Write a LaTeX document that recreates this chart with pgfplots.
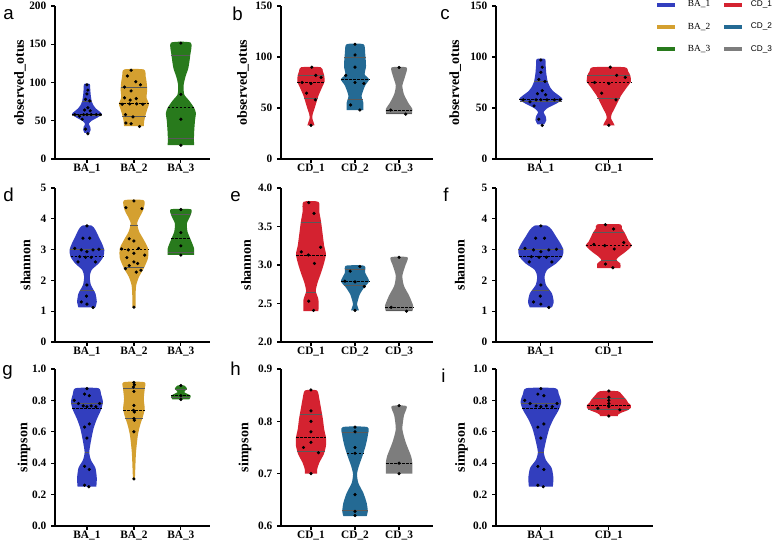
\documentclass[border=0pt]{standalone}
\usepackage{fontspec}
\setmainfont{Liberation Serif}
\newfontfamily\arialfont{Liberation Sans}
\usepackage{pgfplots}
\usepackage{pgfplotstable}
\pgfplotsset{compat=1.18}

\definecolor{cBAa}{RGB}{50,62,190}
\definecolor{cBAb}{RGB}{212,160,48}
\definecolor{cBAc}{RGB}{40,122,28}
\definecolor{cCDa}{RGB}{212,34,48}
\definecolor{cCDb}{RGB}{36,106,148}
\definecolor{cCDc}{RGB}{125,125,125}

% outlines: y and signed half-width (right side upwards, left side downwards)
% ---------- observed_otus ----------
\pgfplotstableread{
y w
34 .05
38 .08
42 .07
46 .04
50 .10
54 .22
58.5 .32
62 .27
66 .19
70 .14
76 .10
84 .08
92 .07
98 .06
98 -.06
92 -.07
84 -.08
76 -.10
70 -.14
66 -.19
62 -.27
58.5 -.32
54 -.22
50 -.10
46 -.04
42 -.07
38 -.08
34 -.05
}\oBAaO
\pgfplotstableread{
dx y
0 97
.02 90
0 85
-.03 78
.06 76
.02 67
-.05 64
.07 63
-.26 58
-.16 56
-.07 58
0 58
.09 58
.2 58
.28 58
-.1 52
-.03 39
.02 33
}\oBAaD
\pgfplotstableread{
med wm q1 w1 q3 w3
58.5 .32 57 .31 76 .10
}\oBAaS

\pgfplotstableread{
y w
43 .21
50 .22
58 .25
66 .29
72 .32
80 .27
88 .28
94 .28
101 .27
108 .25
117 .21
117 -.21
108 -.25
101 -.27
94 -.28
88 -.28
80 -.27
72 -.32
66 -.29
58 -.25
50 -.22
43 -.21
}\oBAbO
\pgfplotstableread{
dx y
-.06 116
-.14 108.5
.04 101
.14 97
-.2 94
-.06 89
-.2 80
-.08 77
.05 79
-.25 71.5
-.09 72
.06 72
.19 71.5
-.18 58
-.02 55
-.17 47
-.06 46
.12 42.5
}\oBAbD
\pgfplotstableread{
med wm q1 w1 q3 w3
73 .32 56 .25 94 .28
}\oBAbS

\pgfplotstableread{
y w
18 .28
32 .28
50 .30
60 .32
67 .28
76 .18
84.5 .07
97 .06
108 .10
119 .16
136 .20
152 .21
152 -.21
136 -.20
119 -.16
108 -.10
97 -.06
84.5 -.07
76 -.18
67 -.28
60 -.32
50 -.30
32 -.28
18 -.28
}\oBAcO
\pgfplotstableread{
dx y
0 151.5
0 84.5
0 52
0 18
}\oBAcD
\pgfplotstableread{
med wm q1 w1 q3 w3
68 .28 26.5 .28 136 .20
}\oBAcS

\pgfplotstableread{
y w
33 .08
36 .06
40 .03
44 .04
48 .07
55 .12
62 .17
70 .25
76 .31
82 .30
86 .27
90 .22
90 -.22
86 -.27
82 -.30
76 -.31
70 -.25
62 -.17
55 -.12
48 -.07
44 -.04
40 -.03
36 -.06
33 -.08
}\oCDaO
\pgfplotstableread{
dx y
.02 90
.11 82
.23 80
-.2 75
0 74
-.1 64.5
.1 58
0 33
}\oCDaD
\pgfplotstableread{
med wm q1 w1 q3 w3
75 .31 60 .16 82 .30
}\oCDaS

\pgfplotstableread{
y w
48 .19
55 .19
62 .15
72 .23
78 .32
83 .22
91 .25
104 .23
112.5 .19
112.5 -.19
104 -.23
91 -.25
83 -.22
78 -.32
72 -.23
62 -.15
55 -.19
48 -.19
}\oCDbO
\pgfplotstableread{
dx y
0 112.5
0 102
0 90
-.21 82
0 75
.2 74
-.1 53
.11 48
}\oCDbD
\pgfplotstableread{
med wm q1 w1 q3 w3
78 .32 58.7 .17 99.5 .24
}\oCDbS

\pgfplotstableread{
y w
44 .29
49 .30
55 .21
63.6 .11
72 .075
81.5 .14
89.7 .17
89.7 -.17
81.5 -.14
72 -.075
63.6 -.11
55 -.21
49 -.30
44 -.29
}\oCDcO
\pgfplotstableread{
dx y
0 89.7
-.19 48
.15 44
}\oCDcD
\pgfplotstableread{
med wm q1 w1 q3 w3
48 .30 45 .29 70 0
}\oCDcS

% ---------- shannon ----------
\pgfplotstableread{
y w
1.12 .18
1.3 .21
1.58 .18
1.85 .085
2.12 .06
2.34 .10
2.55 .25
2.77 .35
2.99 .37
3.2 .32
3.42 .25
3.64 .18
3.78 .10
3.78 -.10
3.64 -.18
3.42 -.25
3.2 -.32
2.99 -.37
2.77 -.35
2.55 -.25
2.34 -.10
2.12 -.06
1.85 -.085
1.58 -.18
1.3 -.21
1.12 -.18
}\sBAaO
\pgfplotstableread{
dx y
0 3.77
-.085 3.37
.06 3.37
-.26 3.04
-.12 2.99
0 2.93
.13 2.99
.255 3.01
-.155 2.77
-.03 2.75
.09 2.75
-.19 2.6
.18 2.6
0 1.85
-.01 1.49
-.12 1.3
0 1.23
.13 1.12
}\sBAaD
\pgfplotstableread{
med wm q1 w1 q3 w3
2.77 .35 1.68 .14 3.02 .37
}\sBAaS

\pgfplotstableread{
y w
1.12 .035
1.52 .035
1.85 .05
2.12 .11
2.39 .21
2.72 .30
3.04 .30
3.32 .21
3.59 .11
3.86 .07
4.08 .13
4.29 .20
4.6 .21
4.6 -.21
4.29 -.20
4.08 -.13
3.86 -.07
3.59 -.11
3.32 -.21
3.04 -.30
2.72 -.30
2.39 -.21
2.12 -.11
1.85 -.05
1.52 -.035
1.12 -.035
}\sBAbO
\pgfplotstableread{
dx y
0 4.58
-.17 4.36
.17 4.33
-.1 3.35
0 3.28
-.26 3.02
-.12 2.99
.1 3.04
0 2.88
.23 2.82
-.15 2.74
0 2.6
-.1 2.48
-.18 2.38
.15 2.33
.05 2.27
.08 2.55
0 1.13
}\sBAbD
\pgfplotstableread{
med wm q1 w1 q3 w3
3.02 .30 2.43 .22 3.8 .08
}\sBAbS

\pgfplotstableread{
y w
2.83 .28
3.04 .28
3.32 .21
3.59 .14
3.86 .13
4.13 .21
4.31 .21
4.31 -.21
4.13 -.21
3.86 -.13
3.59 -.14
3.32 -.21
3.04 -.28
2.83 -.28
}\sBAcO
\pgfplotstableread{
dx y
0 4.3
0 3.55
0 3.12
0 2.82
}\sBAcD
\pgfplotstableread{
med wm q1 w1 q3 w3
3.35 .21 2.9 .28 4.14 .21
}\sBAcS

\pgfplotstableread{
y w
2.4 .17
2.55 .17
2.66 .11
2.77 .15
2.9 .23
3.03 .30
3.14 .34
3.25 .30
3.38 .27
3.56 .23
3.69 .19
3.82 .17
3.82 -.17
3.69 -.19
3.56 -.23
3.38 -.27
3.25 -.30
3.14 -.34
3.03 -.30
2.9 -.23
2.77 -.15
2.66 -.11
2.55 -.17
2.4 -.17
}\sCDaO
\pgfplotstableread{
dx y
-.05 3.81
.07 3.67
.22 3.23
-.22 3.17
-.06 3.13
.08 3.02
-.05 2.53
.06 2.41
}\sCDaD
\pgfplotstableread{
med wm q1 w1 q3 w3
3.13 .34 2.65 .12 3.56 .23
}\sCDaS

\pgfplotstableread{
y w
2.41 .09
2.49 .045
2.53 .06
2.62 .11
2.71 .21
2.79 .32
2.9 .23
2.99 .21
2.99 -.21
2.9 -.23
2.79 -.32
2.71 -.21
2.62 -.11
2.53 -.06
2.49 -.045
2.41 -.09
}\sCDbO
\pgfplotstableread{
dx y
.11 2.98
-.11 2.92
-.23 2.79
0 2.78
.21 2.72
0 2.41
}\sCDbD
\pgfplotstableread{
med wm q1 w1 q3 w3
2.79 .32 2.74 .25 2.95 .22
}\sCDbS

\pgfplotstableread{
y w
2.4 .30
2.47 .32
2.6 .23
2.73 .11
2.86 .075
2.99 .14
3.1 .19
3.1 -.19
2.99 -.14
2.86 -.075
2.73 -.11
2.6 -.23
2.47 -.32
2.4 -.30
}\sCDcO
\pgfplotstableread{
dx y
0 3.1
-.18 2.45
.17 2.4
}\sCDcD
\pgfplotstableread{
med wm q1 w1 q3 w3
2.45 .32 2.41 .30 2.9 0
}\sCDcS

% ---------- simpson ----------
\pgfplotstableread{
y w
.25 .2
.305 .21
.37 .18
.42 .085
.47 .05
.54 .085
.62 .14
.68 .21
.74 .30
.79 .34
.84 .30
.878 .24
.878 -.24
.84 -.30
.79 -.34
.74 -.30
.68 -.21
.62 -.14
.54 -.085
.47 -.05
.42 -.085
.37 -.18
.305 -.21
.25 -.2
}\pBAaO
\pgfplotstableread{
dx y
0 .875
-.05 .84
.05 .83
-.27 .80
-.18 .78
-.08 .765
0 .76
.09 .765
.19 .76
.27 .78
-.05 .63
.05 .65
0 .56
-.05 .38
.05 .36
-.05 .26
.04 .25
}\pBAaD
\pgfplotstableread{
med wm q1 w1 q3 w3
.75 .31 .47 .05 .78 .34
}\pBAaS

\pgfplotstableread{
y w
.295 .02
.37 .03
.47 .045
.58 .085
.65 .14
.705 .20
.747 .23
.81 .21
.874 .23
.916 .22
.916 -.22
.874 -.23
.81 -.21
.747 -.23
.705 -.20
.65 -.14
.58 -.085
.47 -.045
.37 -.03
.295 -.02
}\pBAbO
\pgfplotstableread{
dx y
0 .914
.01 .90
-.01 .885
0 .857
0 .768
-.01 .737
.01 .726
0 .684
.01 .674
0 .60
0 .30
}\pBAbD
\pgfplotstableread{
med wm q1 w1 q3 w3
.737 .23 .684 .20 .878 .23
}\pBAbS

\pgfplotstableread{
y w
.806 .18
.83 .21
.853 .07
.874 .13
.895 .07
.895 -.07
.874 -.13
.853 -.07
.83 -.21
.806 -.18
}\pBAcO
\pgfplotstableread{
dx y
0 .895
0 .83
0 .806
}\pBAcD
\pgfplotstableread{
med wm q1 w1 q3 w3
.83 .21 .82 .20 .874 .13
}\pBAcS

\pgfplotstableread{
y w
.70 .14
.708 .14
.721 .19
.737 .29
.753 .34
.769 .34
.785 .30
.805 .27
.824 .23
.843 .19
.859 .135
.859 -.135
.843 -.19
.824 -.23
.805 -.27
.785 -.30
.769 -.34
.753 -.34
.737 -.29
.721 -.19
.708 -.14
.70 -.14
}\pCDaO
\pgfplotstableread{
dx y
0 .86
0 .82
0 .80
0 .78
-.17 .75
0 .76
.17 .74
0 .70
}\pCDaD
\pgfplotstableread{
med wm q1 w1 q3 w3
.769 .34 .742 .32 .814 .25
}\pCDaS

\pgfplotstableread{
y w
.619 .265
.628 .29
.644 .265
.663 .19
.682 .076
.699 .045
.715 .09
.734 .17
.753 .24
.773 .29
.789 .28
.789 -.28
.773 -.29
.753 -.24
.734 -.17
.715 -.09
.699 -.045
.682 -.076
.663 -.19
.644 -.265
.628 -.29
.619 -.265
}\pCDbO
\pgfplotstableread{
dx y
0 .789
0 .78
0 .75
0 .739
0 .66
0 .628
0 .62
}\pCDbD
\pgfplotstableread{
med wm q1 w1 q3 w3
.739 .19 .63 .29 .78 .29
}\pCDbS

\pgfplotstableread{
y w
.70 .30
.721 .30
.734 .27
.76 .15
.785 .075
.811 .11
.829 .17
.829 -.17
.811 -.11
.785 -.075
.76 -.15
.734 -.27
.721 -.30
.70 -.30
}\pCDcO
\pgfplotstableread{
dx y
0 .83
0 .72
0 .70
}\pCDcD
\pgfplotstableread{
med wm q1 w1 q3 w3
.72 .30 .70 0 .80 0
}\pCDcS

% #1 centre, #2 width scale, #3 colour, #4 outline, #5 dots, #6 quartiles
\newcommand{\violin}[6]{%
\addplot[fill=#3, draw=none, smooth, tension=0.4] table[x expr={#1+#2*\thisrow{w}}, y=y] {#4} -- cycle;
\addplot[black!65, line width=0.4pt, no markers, quiver={u=2*#2*\thisrow{w1}, v=0}] table[x expr={#1-#2*\thisrow{w1}}, y=q1] {#6};
\addplot[black!65, line width=0.4pt, no markers, quiver={u=2*#2*\thisrow{w3}, v=0}] table[x expr={#1-#2*\thisrow{w3}}, y=q3] {#6};
\addplot[black, line width=0.55pt, dash pattern=on 2pt off 1pt, no markers, quiver={u=2*#2*\thisrow{wm}, v=0}] table[x expr={#1-#2*\thisrow{wm}}, y=med] {#6};
\addplot[only marks, mark=*, mark size=1pt, black] table[x expr={#1+#2*\thisrow{dx}}, y=y] {#5};
}

\pgfplotsset{
vio/.style={
  scale only axis, anchor=south west, clip=false,
  axis lines=left, axis line style={-, line width=1pt},
  tick align=outside, major tick length=3pt, tick style={black, line width=0.9pt},
  minor tick num=0,
  tick label style={font=\fontsize{8.5}{9}\selectfont\bfseries},
  xticklabel style={yshift=3pt},
  /pgf/number format/assume math mode=true,
  label style={font=\fontsize{10.5}{11}\selectfont\bfseries},
},
col1/.style={width=116.25pt, xmin=0.32, xmax=3.62, xtick={1,2,3}, xticklabels={BA\_1,BA\_2,BA\_3}},
col2/.style={width=114pt, xmin=0.32, xmax=3.77, xtick={1,2,3}, xticklabels={CD\_1,CD\_2,CD\_3}},
col3/.style={width=117.75pt, xmin=0.34, xmax=2.65, xtick={1,2}, xticklabels={BA\_1,CD\_1}},
dec/.style={yticklabel style={/pgf/number format/fixed, /pgf/number format/precision=1, /pgf/number format/fixed zerofill}},
ylx/.style={ylabel style={at={(axis description cs:#1,0.5)}, anchor=center}},
}

\begin{document}
\begin{tikzpicture}
\tikzset{lett/.style={anchor=base west, inner sep=0pt, font=\arialfont\fontsize{14}{15}\selectfont}}

% row 1
\begin{axis}[vio, col1, at={(41.25pt,286.5pt)}, height=114.75pt,
  ymin=0, ymax=200, ytick={0,50,100,150,200}, ylabel={observed\_otus}, ylx=-0.226]
\violin{1}{1}{cBAa}{\oBAaO}{\oBAaD}{\oBAaS}
\violin{2}{1}{cBAb}{\oBAbO}{\oBAbD}{\oBAbS}
\violin{3}{1}{cBAc}{\oBAcO}{\oBAcD}{\oBAcS}
\end{axis}
\begin{axis}[vio, col2, at={(210.75pt,286.5pt)}, height=114.75pt,
  ymin=0, ymax=150, ytick={0,50,100,150}, ylabel={observed\_otus}, ylx=-0.25]
\violin{1}{1}{cCDa}{\oCDaO}{\oCDaD}{\oCDaS}
\violin{2}{1}{cCDb}{\oCDbO}{\oCDbD}{\oCDbS}
\violin{3}{1}{cCDc}{\oCDcO}{\oCDcD}{\oCDcS}
\end{axis}
\begin{axis}[vio, col3, at={(372pt,286.5pt)}, height=114.75pt,
  ymin=0, ymax=150, ytick={0,50,100,150}, ylabel={observed\_otus}, ylx=-0.26,
  legend columns=2,
  legend style={at={(rel axis cs:1.013,0.863)}, anchor=west, draw=none, fill=none,
    inner sep=0pt, font=\fontsize{7}{8}\selectfont, row sep=6.5pt,
    /tikz/every even column/.append style={column sep=7pt}},
  legend cell align=left,
  legend image code/.code={\draw[#1] (0pt,0pt) -- (13.5pt,0pt);}]
\addlegendimage{cBAa, line width=3pt}
\addlegendimage{cCDa, line width=3pt}
\addlegendimage{cBAb, line width=3pt}
\addlegendimage{cCDb, line width=3pt}
\addlegendimage{cBAc, line width=3pt}
\addlegendimage{cCDc, line width=3pt}
\legend{\hspace{6pt}BA\_1,{\hspace{3pt}\arialfont\fontsize{6.2}{7}\selectfont CD\_1},\hspace{6pt}BA\_2,{\hspace{3pt}\arialfont\fontsize{6.2}{7}\selectfont CD\_2},\hspace{6pt}BA\_3,{\hspace{3pt}\arialfont\fontsize{6.2}{7}\selectfont CD\_3}}
\violin{1}{1}{cBAa}{\oBAaO}{\oBAaD}{\oBAaS}
\violin{2}{1.05}{cCDa}{\oCDaO}{\oCDaD}{\oCDaS}
\end{axis}

% row 2
\begin{axis}[vio, col1, at={(41.25pt,149.25pt)}, height=115.5pt,
  ymin=0, ymax=5, ytick={0,1,2,3,4,5}, ylabel={shannon}, ylx=-0.19]
\violin{1}{1}{cBAa}{\sBAaO}{\sBAaD}{\sBAaS}
\violin{2}{1}{cBAb}{\sBAbO}{\sBAbD}{\sBAbS}
\violin{3}{1}{cBAc}{\sBAcO}{\sBAcD}{\sBAcS}
\end{axis}
\begin{axis}[vio, col2, dec, at={(210.75pt,149.25pt)}, height=115.5pt,
  ymin=2, ymax=4, ytick={2,2.5,3,3.5,4}, ylabel={shannon}, ylx=-0.23]
\violin{1}{1}{cCDa}{\sCDaO}{\sCDaD}{\sCDaS}
\violin{2}{1}{cCDb}{\sCDbO}{\sCDbD}{\sCDbS}
\violin{3}{1}{cCDc}{\sCDcO}{\sCDcD}{\sCDcS}
\end{axis}
\begin{axis}[vio, col3, at={(372pt,149.25pt)}, height=115.5pt,
  ymin=0, ymax=5, ytick={0,1,2,3,4,5}, ylabel={shannon}, ylx=-0.23]
\violin{1}{0.9}{cBAa}{\sBAaO}{\sBAaD}{\sBAaS}
\violin{2}{1}{cCDa}{\sCDaO}{\sCDaD}{\sCDaS}
\end{axis}

% row 3
\begin{axis}[vio, col1, dec, at={(41.25pt,11.25pt)}, height=117.75pt,
  ymin=0, ymax=1, ytick={0,0.2,0.4,0.6,0.8,1}, ylabel={simpson}, ylx=-0.2]
\violin{1}{1}{cBAa}{\pBAaO}{\pBAaD}{\pBAaS}
\violin{2}{1}{cBAb}{\pBAbO}{\pBAbD}{\pBAbS}
\violin{3}{1}{cBAc}{\pBAcO}{\pBAcD}{\pBAcS}
\end{axis}
\begin{axis}[vio, col2, dec, at={(210.75pt,11.25pt)}, height=117.75pt,
  ymin=0.6, ymax=0.9, ytick={0.6,0.7,0.8,0.9}, ylabel={simpson}, ylx=-0.237]
\violin{1}{1}{cCDa}{\pCDaO}{\pCDaD}{\pCDaS}
\violin{2}{1}{cCDb}{\pCDbO}{\pCDbD}{\pCDbS}
\violin{3}{1}{cCDc}{\pCDcO}{\pCDcD}{\pCDcS}
\end{axis}
\begin{axis}[vio, col3, dec, at={(372pt,11.25pt)}, height=117.75pt,
  ymin=0, ymax=1, ytick={0,0.2,0.4,0.6,0.8,1}, ylabel={simpson}, ylx=-0.22]
\violin{1}{0.88}{cBAa}{\pBAaO}{\pBAaD}{\pBAaS}
\violin{2}{0.95}{cCDa}{\pCDaO}{\pCDaD}{\pCDaS}
\end{axis}

% panel letters
\node[lett] at (2.25pt,390.75pt) {a};
\node[lett] at (174pt,390pt) {b};
\node[lett] at (330pt,390.75pt) {c};
\node[lett] at (2.25pt,254.25pt) {d};
\node[lett] at (172.5pt,254.25pt) {e};
\node[lett] at (332.25pt,254.25pt) {f};
\node[lett] at (1.5pt,123.75pt) {g};
\node[lett] at (172.5pt,123.75pt) {h};
\node[lett] at (330.75pt,118.5pt) {i};

\pgfresetboundingbox
\path[use as bounding box] (0pt,0pt) rectangle (582.75pt,405.75pt);
\end{tikzpicture}
\end{document}
